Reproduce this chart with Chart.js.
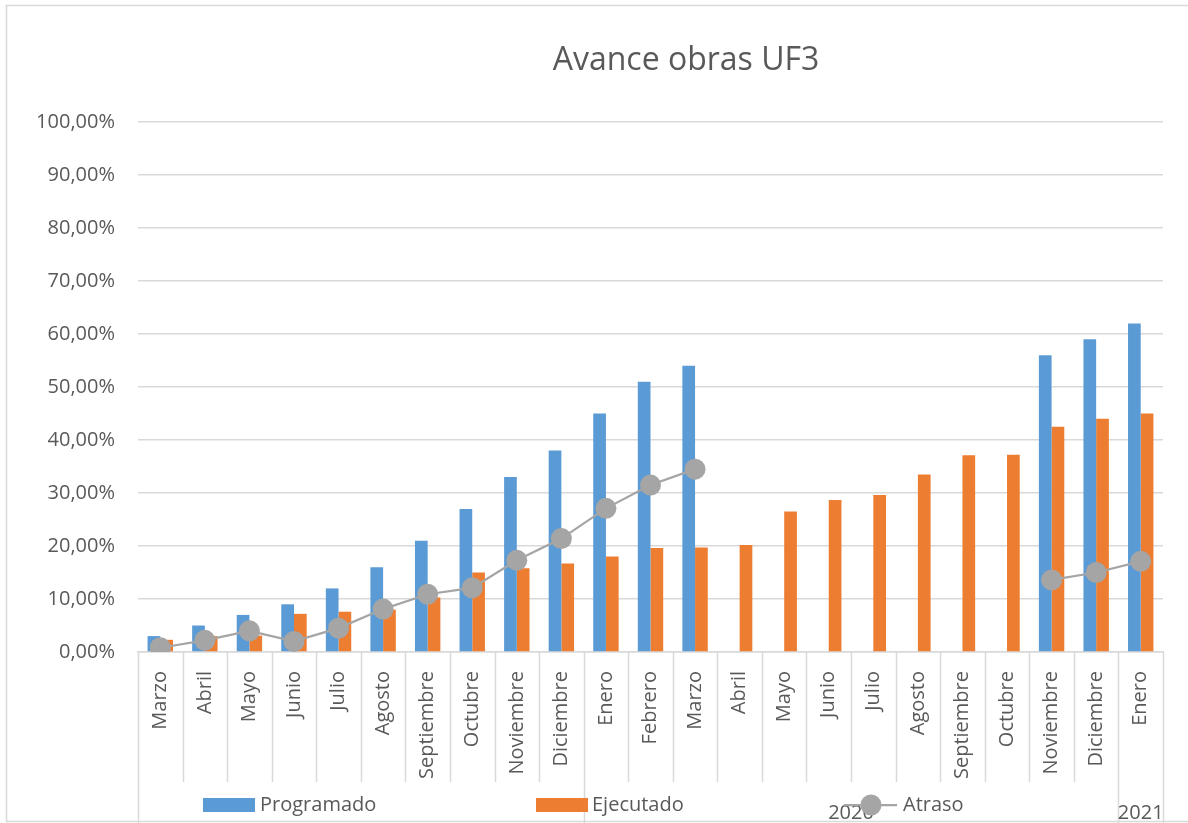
<!DOCTYPE html>
<html>
<head>
<meta charset="utf-8">
<title>Avance obras UF3</title>
<script src="https://cdn.jsdelivr.net/npm/chart.js@4.4.1/dist/chart.umd.min.js"></script>
<style>
  html, body { margin: 0; padding: 0; background: #fff; }
  #wrap { width: 1188px; height: 823px; position: relative; }
</style>
</head>
<body>
<div id="wrap"><canvas id="myChart"></canvas></div>
<script>
// meses del periodo de obra
var meses = ["Marzo", "Abril", "Mayo", "Junio", "Julio", "Agosto", "Septiembre", "Octubre",
  "Noviembre", "Diciembre", "Enero", "Febrero", "Marzo", "Abril", "Mayo", "Junio", "Julio",
  "Agosto", "Septiembre", "Octubre", "Noviembre", "Diciembre", "Enero"];

// agrupacion por año (indice del primer mes de cada grupo)
var anios = ["", "2020", "2021"];
var anioInicio = [0, 10, 22];

// avance en %
var programado = [3, 5, 7, 9, 12, 16, 21, 27, 33, 38, 45, 51, 54,
  null, null, null, null, null, null, null, 56, 59, 62];
var ejecutado = [2.3, 3.0, 3.1, 7.2, 7.6, 8.0, 10.3, 15.0, 15.8, 16.7, 18.0, 19.6, 19.7,
  20.2, 26.5, 28.7, 29.6, 33.5, 37.1, 37.2, 42.5, 44.0, 45.0];
var atraso = [0.8, 2.2, 4.0, 2.0, 4.5, 8.1, 10.9, 12.1, 17.3, 21.4, 27.1, 31.5, 34.5,
  null, null, null, null, null, null, null, 13.6, 15.0, 17.1];

var yTicks = [0, 10, 20, 30, 40, 50, 60, 70, 80, 90, 100];

var AZUL = "#5B9BD5";
var NARANJA = "#ED7D31";
var GRIS = "#A5A5A5";
var LINEA = "#D9D9D9";
var TEXTO = "#595959";
var FUENTE = "'Open Sans', sans-serif";

Chart.defaults.font.family = FUENTE;
Chart.defaults.color = TEXTO;

// titulo, ejes por año, leyenda y marco
var decor = {
  id: "decor",
  afterDraw: function (chart) {
    var ctx = chart.ctx;
    var x = chart.scales.x;
    var area = chart.chartArea;
    var half = (x.getPixelForValue(1) - x.getPixelForValue(0)) / 2;
    var edge = function (i) { return x.getPixelForValue(i) - half; };

    ctx.save();
    // marco exterior
    ctx.strokeStyle = LINEA;
    ctx.lineWidth = 1.5;
    ctx.strokeRect(6.5, 5.5, 1200, 816);

    // separadores de meses y de años
    ctx.beginPath();
    for (var i = 0; i <= meses.length; i++) {
      var px = Math.round(edge(i)) + 0.5;
      var grupo = anioInicio.indexOf(i) >= 0 || i === meses.length;
      ctx.moveTo(px, area.bottom);
      ctx.lineTo(px, grupo ? 823 : 782);
    }
    ctx.stroke();

    // etiquetas de año
    ctx.fillStyle = TEXTO;
    ctx.font = "20px " + FUENTE;
    ctx.textAlign = "center";
    ctx.textBaseline = "middle";
    for (var g = 0; g < anios.length; g++) {
      var fin = g + 1 < anioInicio.length ? anioInicio[g + 1] : meses.length;
      var cx = (edge(anioInicio[g]) + edge(fin)) / 2;
      if (anios[g]) ctx.fillText(anios[g], cx, 813);
    }

    // leyenda
    var ly = 805;
    ctx.font = "20px " + FUENTE;
    ctx.textAlign = "left";
    ctx.fillStyle = AZUL;
    ctx.fillRect(203, ly - 7, 52, 14);
    ctx.fillStyle = TEXTO;
    ctx.fillText("Programado", 260, ly);
    ctx.fillStyle = NARANJA;
    ctx.fillRect(536, ly - 7, 52, 14);
    ctx.fillStyle = TEXTO;
    ctx.fillText("Ejecutado", 592, ly);
    ctx.strokeStyle = GRIS;
    ctx.lineWidth = 2.25;
    ctx.beginPath();
    ctx.moveTo(844, ly);
    ctx.lineTo(897, ly);
    ctx.stroke();
    ctx.fillStyle = GRIS;
    ctx.beginPath();
    ctx.arc(871, ly, 10.5, 0, Math.PI * 2);
    ctx.fill();
    ctx.fillStyle = TEXTO;
    ctx.fillText("Atraso", 903, ly);

    // titulo
    ctx.font = "32px " + FUENTE;
    ctx.textAlign = "center";
    ctx.fillText("Avance obras UF3", 686, 61);
    ctx.restore();
  }
};

var ctx = document.getElementById("myChart").getContext("2d");
var myChart = new Chart(ctx, {
  type: "bar",
  data: {
    labels: meses,
    datasets: [
      {
        type: "line",
        label: "Atraso",
        data: atraso,
        borderColor: GRIS,
        backgroundColor: GRIS,
        borderWidth: 2.25,
        pointRadius: 10.5,
        pointBackgroundColor: GRIS,
        pointBorderColor: GRIS,
        pointBorderWidth: 0,
        spanGaps: false,
        order: 0,
      },
      {
        label: "Programado",
        data: programado,
        backgroundColor: AZUL,
        categoryPercentage: 0.57,
        barPercentage: 1,
        order: 1,
      },
      {
        label: "Ejecutado",
        data: ejecutado,
        backgroundColor: NARANJA,
        categoryPercentage: 0.57,
        barPercentage: 1,
        order: 1,
      },
    ],
  },
  options: {
    responsive: true,
    maintainAspectRatio: false,
    animation: false,
    layout: { padding: { top: 122, right: 25, left: 0, bottom: 0 } },
    plugins: {
      legend: { display: false },
      title: { display: false },
      tooltip: { enabled: false },
    },
    scales: {
      x: {
        grid: { display: false },
        border: { display: true, color: LINEA, width: 1.5 },
        ticks: {
          minRotation: 90,
          maxRotation: 90,
          autoSkip: false,
          padding: 11,
          font: { size: 20 },
          color: TEXTO,
        },
        afterFit: function (scale) { scale.height = 171; },
      },
      y: {
        min: 0,
        max: 100,
        afterBuildTicks: function (scale) {
          scale.ticks = yTicks.map(function (v) { return { value: v }; });
        },
        grid: { color: LINEA, lineWidth: 1.5, drawTicks: false },
        border: { display: false },
        ticks: {
          padding: 23,
          font: { size: 20 },
          color: TEXTO,
          callback: function (v) { return v.toFixed(2).replace(".", ",") + "%"; },
        },
        afterFit: function (scale) { scale.width = 138; },
      },
    },
  },
  plugins: [decor],
});
</script>
</body>
</html>
